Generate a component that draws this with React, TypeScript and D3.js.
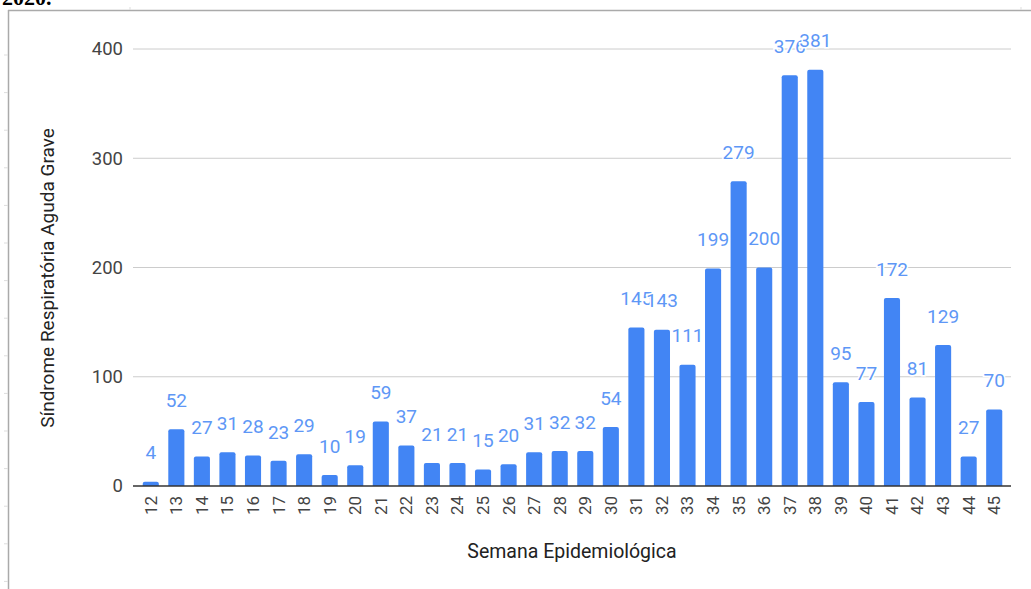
import * as d3 from "d3";

const weeks = [
  "12", "13", "14", "15", "16", "17", "18", "19", "20", "21", "22", "23",
  "24", "25", "26", "27", "28", "29", "30", "31", "32", "33", "34", "35",
  "36", "37", "38", "39", "40", "41", "42", "43", "44", "45",
];
const cases = [
  4, 52, 27, 31, 28, 23, 29, 10, 19, 59, 37, 21, 21, 15, 20, 31, 32, 32, 54,
  145, 143, 111, 199, 279, 200, 376, 381, 95, 77, 172, 81, 129, 27, 70,
];
const yTicks = [0, 100, 200, 300, 400];

const W = 1031;
const H = 589;
const font = "Roboto, 'Liberation Sans', Arial, sans-serif";

export default function App() {
  const plotLeft = 133;
  const plotRight = 1011;
  const x = d3
    .scaleBand<string>()
    .domain(weeks)
    .range([138, 1007])
    .paddingInner(0.37)
    .paddingOuter(0.185);
  const y = d3.scaleLinear().domain([0, 400]).range([486, 49]);

  // faint ruler marks along the frame
  const rulerY = d3.range(55, H, 37.6);

  return (
    <div style={{ position: "fixed", left: 0, top: 0 }}>
      <svg width={W} height={H} style={{ display: "block", background: "#fff" }}>
        <text x={2} y={5} fontFamily="'Liberation Serif', serif" fontWeight="bold" fontSize={22} fill="#000">
          2020.
        </text>
        {/* frame */}
        <line x1={8.5} x2={8.5} y1={10} y2={H} stroke="#aaa" strokeWidth={1.5} />
        <line x1={8} x2={W} y1={10.5} y2={10.5} stroke="#aaa" strokeWidth={1.5} />
        {rulerY.map((v) => (
          <line key={v} x1={4} x2={8} y1={v} y2={v} stroke="#ddd" />
        ))}
        <line x1={130} x2={130} y1={7} y2={10} stroke="#ddd" />
        <line x1={1021} x2={1021} y1={7} y2={10} stroke="#ddd" />

        {/* gridlines + y labels */}
        {yTicks.map((t) => (
          <g key={t}>
            {t !== 0 && (
              <line x1={plotLeft} x2={plotRight} y1={y(t)} y2={y(t)} stroke="#cccccc" strokeWidth={1} />
            )}
            <text
              x={123}
              y={y(t)}
              dy="0.35em"
              textAnchor="end"
              fontFamily={font}
              fontSize={18.5}
              fill="#444"
            >
              {t}
            </text>
          </g>
        ))}

        {/* bars */}
        {weeks.map((w, i) => {
          const v = cases[i];
          const h = y(0) - y(v);
          return (
            <path
              key={"b" + w}
              d={roundTop(x(w)!, y(v), x.bandwidth(), h, 2)}
              fill="#4285f4"
            />
          );
        })}

        {/* baseline */}
        <line x1={plotLeft} x2={plotRight} y1={y(0)} y2={y(0)} stroke="#333" strokeWidth={1.5} />

        {/* value labels */}
        {weeks.map((w, i) => (
          <text
            key={"l" + w}
            x={x(w)! + x.bandwidth() / 2}
            y={y(cases[i]) - 29}
            dy="0.35em"
            textAnchor="middle"
            fontFamily={font}
            fontSize={19}
            fill="#5e97f6"
            stroke="#fff"
            strokeWidth={3}
            paintOrder="stroke"
          >
            {cases[i]}
          </text>
        ))}

        {/* x tick labels */}
        {weeks.map((w) => {
          const cx = x(w)! + x.bandwidth() / 2;
          return (
            <text
              key={"x" + w}
              transform={`translate(${cx},${496}) rotate(-90)`}
              dy="0.35em"
              textAnchor="end"
              fontFamily={font}
              fontSize={17}
              fill="#444"
            >
              {w}
            </text>
          );
        })}

        <text
          x={(plotLeft + plotRight) / 2}
          y={558}
          textAnchor="middle"
          fontFamily={font}
          fontSize={19.5}
          fill="#222"
        >
          Semana Epidemiológica
        </text>
        <text
          transform={`translate(47,${278}) rotate(-90)`}
          dy="0.35em"
          textAnchor="middle"
          fontFamily={font}
          fontSize={19}
          fill="#222"
        >
          Síndrome Respiratória Aguda Grave
        </text>
      </svg>
    </div>
  );
}

function roundTop(x0: number, y0: number, w: number, h: number, r: number) {
  const rr = Math.min(r, h, w / 2);
  const p = d3.path();
  p.moveTo(x0, y0 + h);
  p.lineTo(x0, y0 + rr);
  p.quadraticCurveTo(x0, y0, x0 + rr, y0);
  p.lineTo(x0 + w - rr, y0);
  p.quadraticCurveTo(x0 + w, y0, x0 + w, y0 + rr);
  p.lineTo(x0 + w, y0 + h);
  p.closePath();
  return p.toString();
}
